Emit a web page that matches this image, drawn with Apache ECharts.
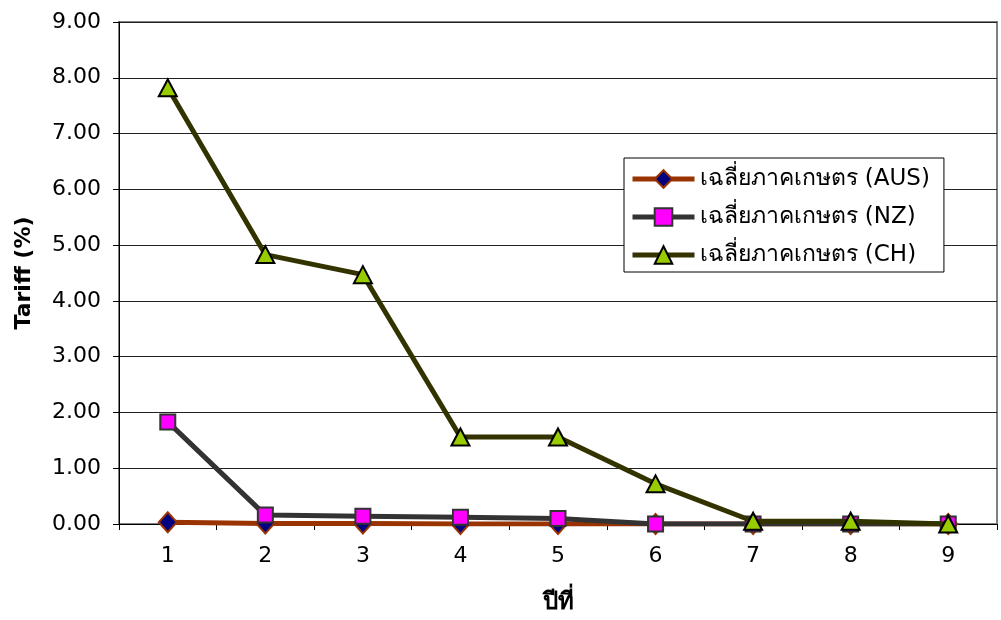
<!DOCTYPE html>
<html>
<head>
<meta charset="utf-8">
<script src="https://cdn.jsdelivr.net/npm/echarts@6/dist/echarts.min.js"></script>
<style>
html,body{margin:0;padding:0;background:#fff;}
#c{width:1001px;height:620px;}
</style>
</head>
<body>
<div id="c"></div>
<script>
const categories = ['1','2','3','4','5','6','7','8','9'];
const seriesNames = ['เฉลี่ยภาคเกษตร (AUS)','เฉลี่ยภาคเกษตร (NZ)','เฉลี่ยภาคเกษตร (CH)'];
const ausValues = [0.03, 0.01, 0.01, 0.0, 0.0, 0.0, 0.0, 0.0, 0.0];
const nzValues  = [1.83, 0.16, 0.14, 0.12, 0.10, 0.0, 0.0, 0.0, 0.0];
const chValues  = [7.82, 4.83, 4.47, 1.56, 1.56, 0.72, 0.05, 0.05, 0.0];
const yTicks = [0,1,2,3,4,5,6,7,8,9];

const font = "'DejaVu Sans', 'Noto Sans', sans-serif";
const chart = echarts.init(document.getElementById('c'));
chart.setOption({
  animation:false,
  backgroundColor:'#fff',
  textStyle:{fontFamily:font},
  grid:{left:119,right:4,top:22,bottom:96,show:true,borderColor:'#808080',borderWidth:2,backgroundColor:'transparent'},
  legend:{
    orient:'vertical',
    left:624, top:158,
    padding:[7,14,3,6],
    itemGap:10,
    itemWidth:62, itemHeight:22,
    borderColor:'#000', borderWidth:1,
    backgroundColor:'#fff',
    lineStyle:{width:5},
    textStyle:{fontSize:23,lineHeight:28,color:'#000',fontFamily:font},
    data:seriesNames
  },
  xAxis:{
    type:'category',
    data:categories,
    boundaryGap:true,
    name:'ปีที่',
    nameLocation:'middle',
    nameGap:67,
    nameTextStyle:{fontSize:24,fontWeight:'bold',color:'#000',fontFamily:font},
    axisLine:{lineStyle:{color:'#000',width:1}},
    axisTick:{show:true,length:6,alignWithLabel:false,lineStyle:{color:'#000'}},
    axisLabel:{fontSize:22,color:'#000',margin:21},
    splitLine:{show:false}
  },
  yAxis:{
    type:'value',
    min:yTicks[0], max:yTicks[yTicks.length-1], interval:1,
    name:'Tariff (%)',
    nameLocation:'middle',
    nameGap:84,
    nameRotate:90,
    nameTextStyle:{fontSize:22,fontWeight:'bold',color:'#000',fontFamily:font},
    axisLine:{show:true,lineStyle:{color:'#000',width:1}},
    axisTick:{show:true,length:6,lineStyle:{color:'#000'}},
    axisLabel:{fontSize:22,color:'#000',margin:18,formatter:v=>v.toFixed(2)},
    splitLine:{show:true,lineStyle:{color:'#222',width:1}}
  },
  series:[
    {name:seriesNames[0],type:'line',data:ausValues,z:2,
     lineStyle:{color:'#993300',width:5},
     itemStyle:{color:'#000080',borderColor:'#993300',borderWidth:2},
     symbol:'diamond',symbolSize:[18,20],showAllSymbol:true},
    {name:seriesNames[1],type:'line',data:nzValues,z:3,
     lineStyle:{color:'#333333',width:5},
     itemStyle:{color:'#FF00FF',borderColor:'#333333',borderWidth:2},
     symbol:'rect',symbolSize:15,showAllSymbol:true},
    {name:seriesNames[2],type:'line',data:chValues,z:4,
     lineStyle:{color:'#333300',width:5},
     itemStyle:{color:'#99CC00',borderColor:'#000',borderWidth:2},
     symbol:'triangle',symbolSize:[18,17],showAllSymbol:true}
  ]
});
</script>
</body>
</html>
